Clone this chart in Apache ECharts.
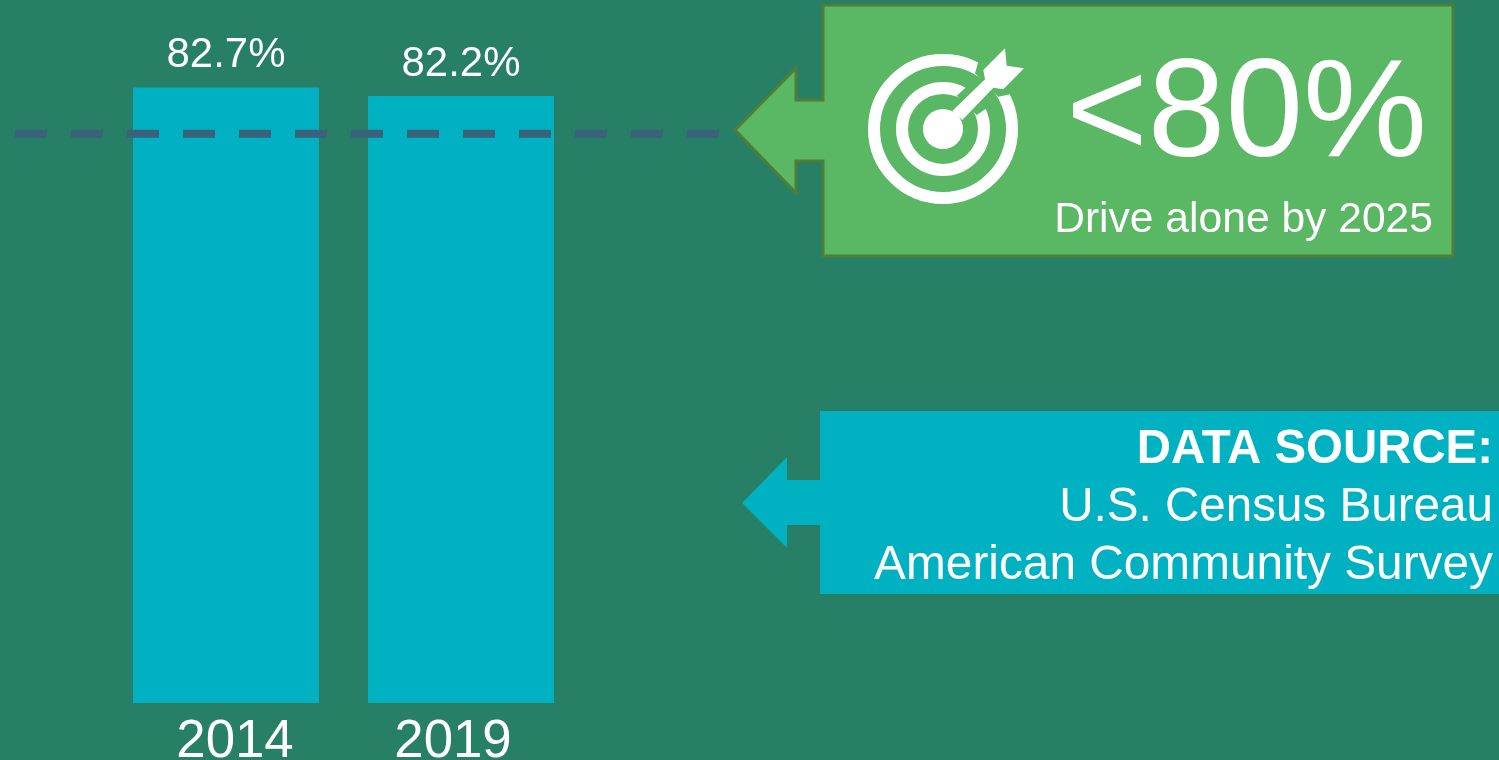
<!DOCTYPE html>
<html><head><meta charset="utf-8">
<style>html,body{margin:0;padding:0;background:#277f66}#c{width:1499px;height:760px}</style>
<script src="https://cdn.jsdelivr.net/npm/echarts@6/dist/echarts.min.js"></script>
</head><body><div id="c"></div>
<script>
const years = ['2014', '2019'];
const driveAlone = [82.7, 82.2];
const target = [80];
const bg = '#277f66', cyan = '#00b2c1', green = '#5ab763', greenEdge = '#4f7f37', dash = '#38637a';
const font = '"Liberation Sans", Arial, sans-serif';
const cx = 943, cy = 129;
const chart = echarts.init(document.getElementById('c'), null, {renderer: 'canvas'});
chart.setOption({
  backgroundColor: bg,
  animation: false,
  textStyle: {fontFamily: font},
  grid: {left: 108.5, width: 470, top: 2, height: 701, outerBoundsMode: 'none'},
  xAxis: {
    type: 'category',
    data: [
      {value: years[0], textStyle: {padding: [0, 0, 0, 18]}},
      {value: years[1], textStyle: {padding: [0, 16, 0, 0]}}
    ],
    axisLine: {show: false}, axisTick: {show: false},
    axisLabel: {color: '#fff', fontSize: 52.8, fontFamily: font, margin: 13, interval: 0}
  },
  yAxis: {type: 'value', min: 46.7, max: 87.7, show: false},
  series: [
    {
      type: 'bar', data: driveAlone, barWidth: 186,
      itemStyle: {color: cyan},
      label: {show: true, position: 'top', distance: 11, color: '#fff', fontSize: 42, fontFamily: font,
        formatter: p => p.value.toFixed(1) + '%'}
    },
    {
      type: 'custom', data: target, z: 5, clip: false,
      coordinateSystem: 'cartesian2d',
      encode: {y: 0},
      renderItem: (params, api) => {
        const y = api.coord([0, api.value(0)])[1];
        return {type: 'line', shape: {x1: 15, y1: y, x2: 720, y2: y},
          style: {stroke: dash, lineWidth: 8, lineDash: [32, 24]}};
      }
    }
  ],
  graphic: [
    {type: 'polygon', z: 1, shape: {points: [[735,130],[796,68],[796,100],[823,100],[823,5],[1453,5],[1453,256],[823,256],[823,161],[796,161],[796,193]]},
      style: {fill: green, stroke: greenEdge, lineWidth: 3}},
    {type: 'polygon', z: 1, shape: {points: [[742,503],[787,457],[787,480],[820,480],[820,411],[1499,411],[1499,594],[820,594],[820,525],[787,525],[787,548]]},
      style: {fill: cyan}},
    {type: 'circle', z: 2, shape: {cx, cy, r: 69}, style: {fill: 'none', stroke: '#fff', lineWidth: 12}},
    {type: 'circle', z: 2, shape: {cx, cy, r: 41}, style: {fill: 'none', stroke: '#fff', lineWidth: 12}},
    {type: 'polygon', z: 2, shape: {points: [[978.3,61.7],[975,73.3],[998.3,96.7],[1010,94.3],[1018,56]]}, style: {fill: green}},
    {type: 'polygon', z: 2, shape: {points: [[966,87.3],[956.7,95.7],[976.7,115],[986.7,108.3],[985,87]]}, style: {fill: green}},
    {type: 'circle', z: 2, shape: {cx, cy, r: 20}, style: {fill: '#fff'}},
    {type: 'polygon', z: 2, shape: {points: [[952.3,111],[985,79.3],[983.3,70],[1005,48.3],[1006.7,65.7],[1024,68.3],[1003.3,89.3],[993.3,87.7],[962.3,120]]}, style: {fill: '#fff'}},
    {type: 'text', z: 3, style: {x: 1427, y: 118, text: '<80%', fill: '#fff', font: '139.5px ' + font, textAlign: 'right', verticalAlign: 'middle'}},
    {type: 'text', z: 3, style: {x: 1433, y: 220, text: 'Drive alone by 2025', fill: '#fff', font: '42.6px ' + font, textAlign: 'right', verticalAlign: 'middle'}},
    {type: 'text', z: 3, style: {x: 1493, y: 450, text: 'DATA SOURCE:', fill: '#fff', font: 'bold 47.4px ' + font, textAlign: 'right', verticalAlign: 'middle'}},
    {type: 'text', z: 3, style: {x: 1493, y: 508, text: 'U.S. Census Bureau', fill: '#fff', font: '47.6px ' + font, textAlign: 'right', verticalAlign: 'middle'}},
    {type: 'text', z: 3, style: {x: 1493, y: 566, text: 'American Community Survey', fill: '#fff', font: '47.8px ' + font, textAlign: 'right', verticalAlign: 'middle'}}
  ]
});
</script></body></html>
